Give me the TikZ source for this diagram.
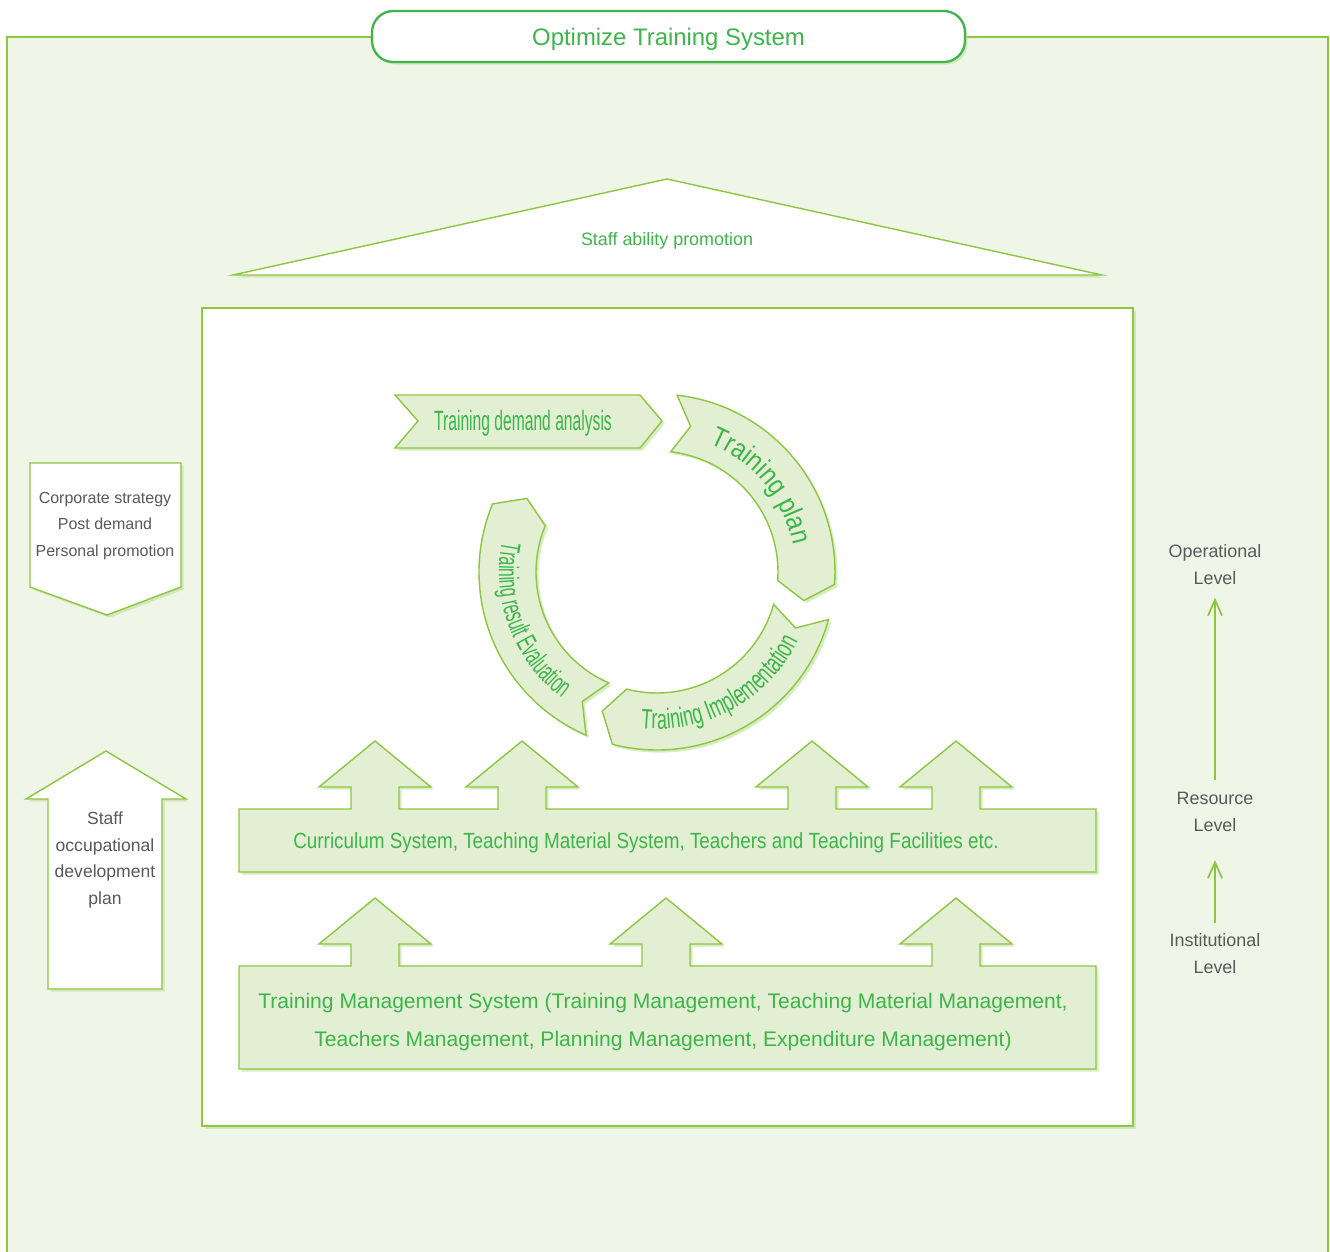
\documentclass[tikz,border=0pt]{standalone}
\usepackage{fontspec}
\setmainfont{Liberation Sans}
\newfontfamily\narrowfont[FakeStretch=0.56]{Liberation Sans}
\newfontfamily\evalfont[FakeStretch=0.56]{Liberation Sans}
\newfontfamily\implfont[FakeStretch=0.64]{Liberation Sans}
\newfontfamily\planfont[FakeStretch=0.85]{Liberation Sans}
\newfontfamily\bandfont[FakeStretch=0.86]{Liberation Sans}
\usetikzlibrary{arrows.meta, calc, shadows, decorations.text}

\definecolor{leaf}{HTML}{8DC63F}
\definecolor{forest}{HTML}{3DB54A}
\definecolor{field}{HTML}{EFF6E8}
\definecolor{mint}{HTML}{E2EFD3}
\definecolor{haze}{HTML}{BFE09F}
\definecolor{ink}{HTML}{595959}

% one curved arrow of the cycle: start angle, end angle (clockwise)
\newcommand{\cyclearrow}[2]{%
  \draw[band] ($(C)+(#1:3.56cm)$) arc[start angle=#1, end angle=#2, radius=3.56cm]
    -- ($(C)+({#2-7}:2.99cm)$) -- ($(C)+(#2:2.42cm)$)
    arc[start angle=#2, end angle=#1, radius=2.42cm]
    -- ($(C)+({#1-6.5}:2.99cm)$) -- cycle;}

\begin{document}
\begin{tikzpicture}
[x=0.02cm, y=0.02cm, >={Straight Barb[length=9pt, width=8pt]},
 panel/.style={draw=leaf, line width=0.8pt, fill=white, drop shadow={shadow xshift=1.5pt, shadow yshift=-1.5pt, fill=haze, opacity=0.6}},
 band/.style={panel, fill=mint},
 greentext/.style={text=forest, inner sep=0},
 greytext/.style={text=ink, align=center, inner sep=0, font=\fontsize{9.6}{15.2}\selectfont},
 levelarrow/.style={->, draw=leaf, line width=1pt}]
\useasboundingbox (0,0) rectangle (1330,-1252);
\draw[draw=leaf, fill=field, line width=1pt] (7,-1252) -- (7,-37) -- (1328,-37) -- (1328,-1252);
% top
\node (title) [draw=forest, line width=1.3pt, fill=white, rounded corners=12pt, minimum width=11.86cm, minimum height=1.02cm, text depth=0pt, text=forest, font=\fontsize{13.6}{16}\selectfont, drop shadow={shadow xshift=1.5pt, shadow yshift=-1.5pt, fill=haze, opacity=0.6}] at (668.5,-36.5) {Optimize Training System};
\draw[panel] (233,-275) -- (667,-179) -- (1102,-275) -- cycle;
\node (ability) [greentext, font=\fontsize{10.2}{12}\selectfont] at (667,-241) {Staff ability promotion};
\draw[panel] (202,-308) rectangle (1133,-1126);
% cycle
\coordinate (C) at (657,-572);
\draw[band] (395,-395) -- (640,-395) -- (662,-421) -- (640,-448) -- (395,-448) -- (418,-421) -- cycle;
\node (demand) [greentext, font=\narrowfont\fontsize{15.9}{18}\selectfont] at (523,-423) {Training demand analysis};
\cyclearrow{83.5}{-4}
\cyclearrow{-15.5}{-104.5}
\cyclearrow{246.5}{157.5}
\path[decorate, decoration={text along path, text align=center, text color=forest,
  text={|\planfont\fontsize{15.9}{18}\selectfont|Training plan}}]
  ($(C)+(83:2.78cm)$) arc[start angle=83, end angle=-4, radius=2.78cm];
\path[decorate, decoration={text along path, text align=center, text color=forest,
  text={|\implfont\fontsize{15.9}{18}\selectfont|Training Implementation}}]
  ($(C)+(-106:3.14cm)$) arc[start angle=-106, end angle=-16, radius=3.14cm];
\path[decorate, decoration={text along path, text align=center, text color=forest,
  text={|\evalfont\fontsize{15.9}{18}\selectfont|Training result Evaluation}}]
  ($(C)+(156:3.16cm)$) arc[start angle=156, end angle=246, radius=3.16cm];
% resource bands
\draw[band] (239,-872) -- (239,-809) \foreach \x in {375,522,812,956} { -- ({\x-24},-809) -- ++(0,22) -- ++(-32,0) -- ++(56,46) -- ++(56,-46) -- ++(-32,0) -- ++(0,-22) } -- (1096,-809) -- (1096,-872) -- cycle;
\node (resource) [greentext, font=\bandfont\fontsize{12.5}{15}\selectfont] at (646,-843) {Curriculum System, Teaching Material System, Teachers and Teaching Facilities etc.};
\draw[band] (239,-1069) -- (239,-966) \foreach \x in {375,666,956} { -- ({\x-24},-966) -- ++(0,22) -- ++(-32,0) -- ++(56,46) -- ++(56,-46) -- ++(-32,0) -- ++(0,-22) } -- (1096,-966) -- (1096,-1069) -- cycle;
\node (institution) [greentext, align=center, font=\fontsize{12}{22.1}\selectfont] at (663,-1022) {Training Management System (Training Management, Teaching Material Management,\\Teachers Management, Planning Management, Expenditure Management)};
% left side
\draw[panel] (30,-463) -- (181,-463) -- (181,-587) -- (107,-615) -- (30,-587) -- cycle;
\node (drivers) [greytext, font=\fontsize{9.1}{15.2}\selectfont] at (105,-526) {Corporate strategy\\Post demand\\Personal promotion};
\draw[panel] (48,-989) -- (48,-799) -- (26,-799) -- (106,-751) -- (186,-799) -- (162,-799) -- (162,-989) -- cycle;
\node (career) [greytext, font=\fontsize{10}{15.2}\selectfont] at (105,-860) {Staff\\occupational\\development\\plan};
% right side
\node (operational) [greytext, font=\fontsize{10.2}{15.3}\selectfont] at (1215,-565) {Operational\\Level};
\node (resourcelevel) [greytext, font=\fontsize{10.2}{15.3}\selectfont] at (1215,-812) {Resource\\Level};
\node (institutional) [greytext, font=\fontsize{10.2}{15.3}\selectfont] at (1215,-954) {Institutional\\Level};
\draw[levelarrow, shorten <=7pt, shorten >=7pt] (resourcelevel) -- (operational);
\draw[levelarrow, shorten <=6pt, shorten >=16pt] (institutional) -- (resourcelevel);
\end{tikzpicture}
\end{document}
